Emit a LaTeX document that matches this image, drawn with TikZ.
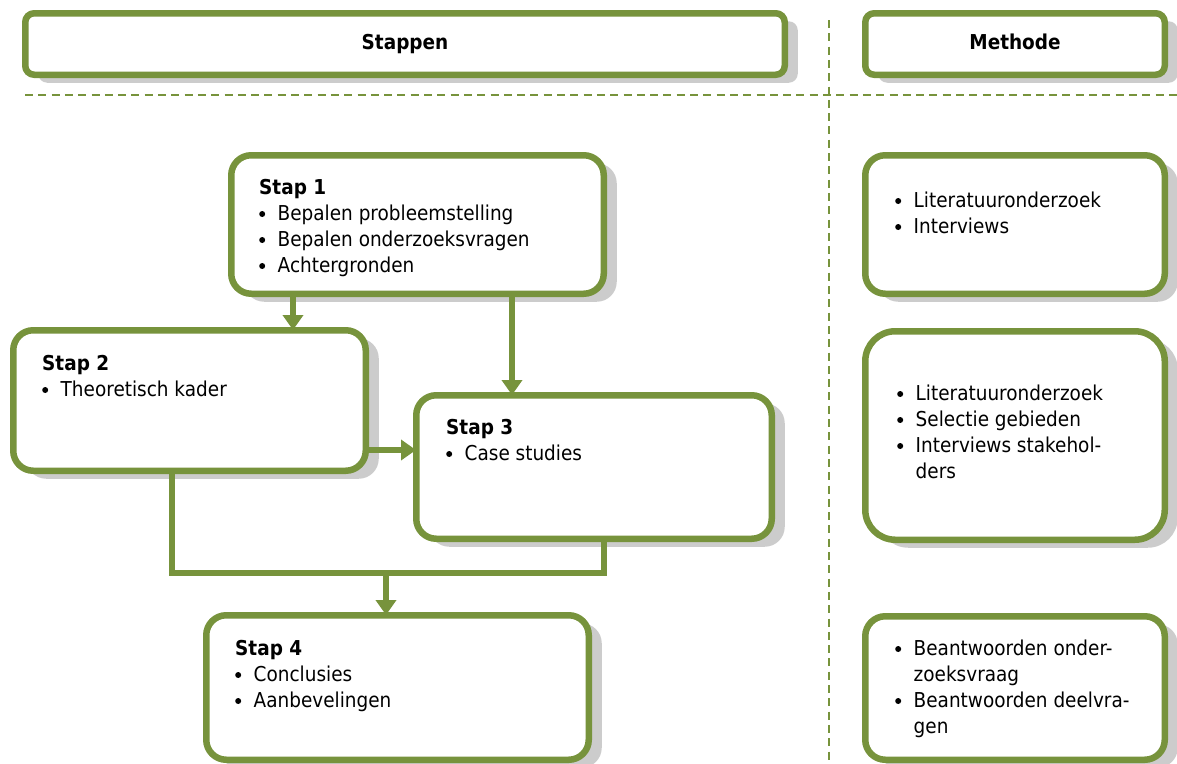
\documentclass[tikz,border=0pt]{standalone}
\usepackage{fontspec}
\setmainfont{DejaVu Sans}[FakeStretch=0.9]
\usetikzlibrary{arrows.meta,shadows}
\definecolor{olive}{RGB}{119,147,60}
\definecolor{shade}{RGB}{204,204,204}
% round bullet, item marker and hanging indent for wrapped lines
\newcommand{\dotb}{\tikz[baseline=0pt]\fill[black] (3pt,6pt) circle (3pt);}
\newcommand{\itm}{\makebox[18.5pt][l]{\dotb}}
\newcommand{\ind}{\hspace*{18.5pt}}
\begin{document}
\begin{tikzpicture}[x=1pt,y=-1pt,
  box/.style={draw=olive, line width=6.5pt, fill=white, rounded corners=#1,
    inner sep=0pt,
    drop shadow={opacity=1, fill=shade, shadow xshift=13pt, shadow yshift=-8pt}},
  box/.default=20pt,
  txt/.style={anchor=base west, inner sep=0pt, align=left,
    font=\fontsize{20.5}{26}\selectfont},
  head/.style={anchor=base, inner sep=0pt, font=\fontsize{20.5}{26}\selectfont\bfseries},
  conn/.style={draw=olive, line width=6.5pt},
  arr/.style={conn, -{Triangle[width=20pt,length=15pt]}, shorten >=-3pt},
  sep/.style={draw=olive, line width=2pt, dash pattern=on 8pt off 5.3pt}
]
\useasboundingbox (0,0) rectangle (1177,763);

% column separators
\draw[sep] (25,95) -- (1177,95);
\draw[sep] (829,20) -- (829,763);

% header boxes
\node[box=9pt, minimum width=759.5pt, minimum height=61.5pt] (hs) at (405,44) {};
\node[box=9pt, minimum width=299.5pt, minimum height=61.5pt] (hm) at (1015,44) {};
\node[head] (hst) at (405,49) {Stappen};
\node[head] (hmt) at (1015,49) {Methode};

% step boxes
\node[box, minimum width=372.5pt, minimum height=138.5pt] (s1) at (417.5,224.5) {};
\node[box, minimum width=352.5pt, minimum height=140.5pt] (s2) at (189.5,400.5) {};
\node[box, minimum width=355.5pt, minimum height=143.5pt] (s3) at (594,467) {};
\node[box, minimum width=382.5pt, minimum height=144.5pt] (s4) at (397.5,687.5) {};

% method boxes
\node[box, minimum width=299.5pt, minimum height=138.5pt] (m1) at (1015,224.5) {};
\node[box=30pt, minimum width=299.5pt, minimum height=208.5pt] (m2) at (1015,435.5) {};
\node[box, minimum width=299.5pt, minimum height=143.5pt] (m3) at (1015,688) {};

% box texts
\node[txt] (s1t) at (259,194) {\begin{tabular}[t]{@{}l@{}}\textbf{Stap 1}\\
  \itm Bepalen probleemstelling\\ \itm Bepalen onderzoeksvragen\\ \itm Achtergronden\end{tabular}};
\node[txt] (s2t) at (42,370) {\begin{tabular}[t]{@{}l@{}}\textbf{Stap 2}\\
  \itm Theoretisch kader\end{tabular}};
\node[txt] (s3t) at (446,434) {\begin{tabular}[t]{@{}l@{}}\textbf{Stap 3}\\
  \itm Case studies\end{tabular}};
\node[txt] (s4t) at (235,655) {\begin{tabular}[t]{@{}l@{}}\textbf{Stap 4}\\
  \itm Conclusies\\ \itm Aanbevelingen\end{tabular}};
\node[txt] (m1t) at (895,207) {\begin{tabular}[t]{@{}l@{}}\itm Literatuuronderzoek\\
  \itm Interviews\end{tabular}};
\node[txt] (m2t) at (897,400) {\begin{tabular}[t]{@{}l@{}}\itm Literatuuronderzoek\\
  \itm Selectie gebieden\\ \itm Interviews stakehol-\\ \ind ders\end{tabular}};
\node[txt] (m3t) at (895,655) {\begin{tabular}[t]{@{}l@{}}\itm Beantwoorden onder-\\
  \ind zoeksvraag\\ \itm Beantwoorden deelvra-\\ \ind gen\end{tabular}};

% connector routing points
\coordinate (c12) at (293,0);
\coordinate (c13) at (512,0);
\coordinate (c23) at (0,450);
\coordinate (j2) at (172,573);
\coordinate (j3) at (604,573);
\coordinate (jm) at (386,573);

% connectors
\draw[arr] (s1.south -| c12) -- (s2.north -| c12);
\draw[arr] (s1.south -| c13) -- (s3.north -| c13);
\draw[arr] (s2.east |- c23) -- (s3.west |- c23);
\draw[conn] (s2.south -| j2) -- (j2) -- (j3) -- (s3.south -| j3);
\draw[arr] (jm) -- (s4.north -| jm);
\end{tikzpicture}
\end{document}
